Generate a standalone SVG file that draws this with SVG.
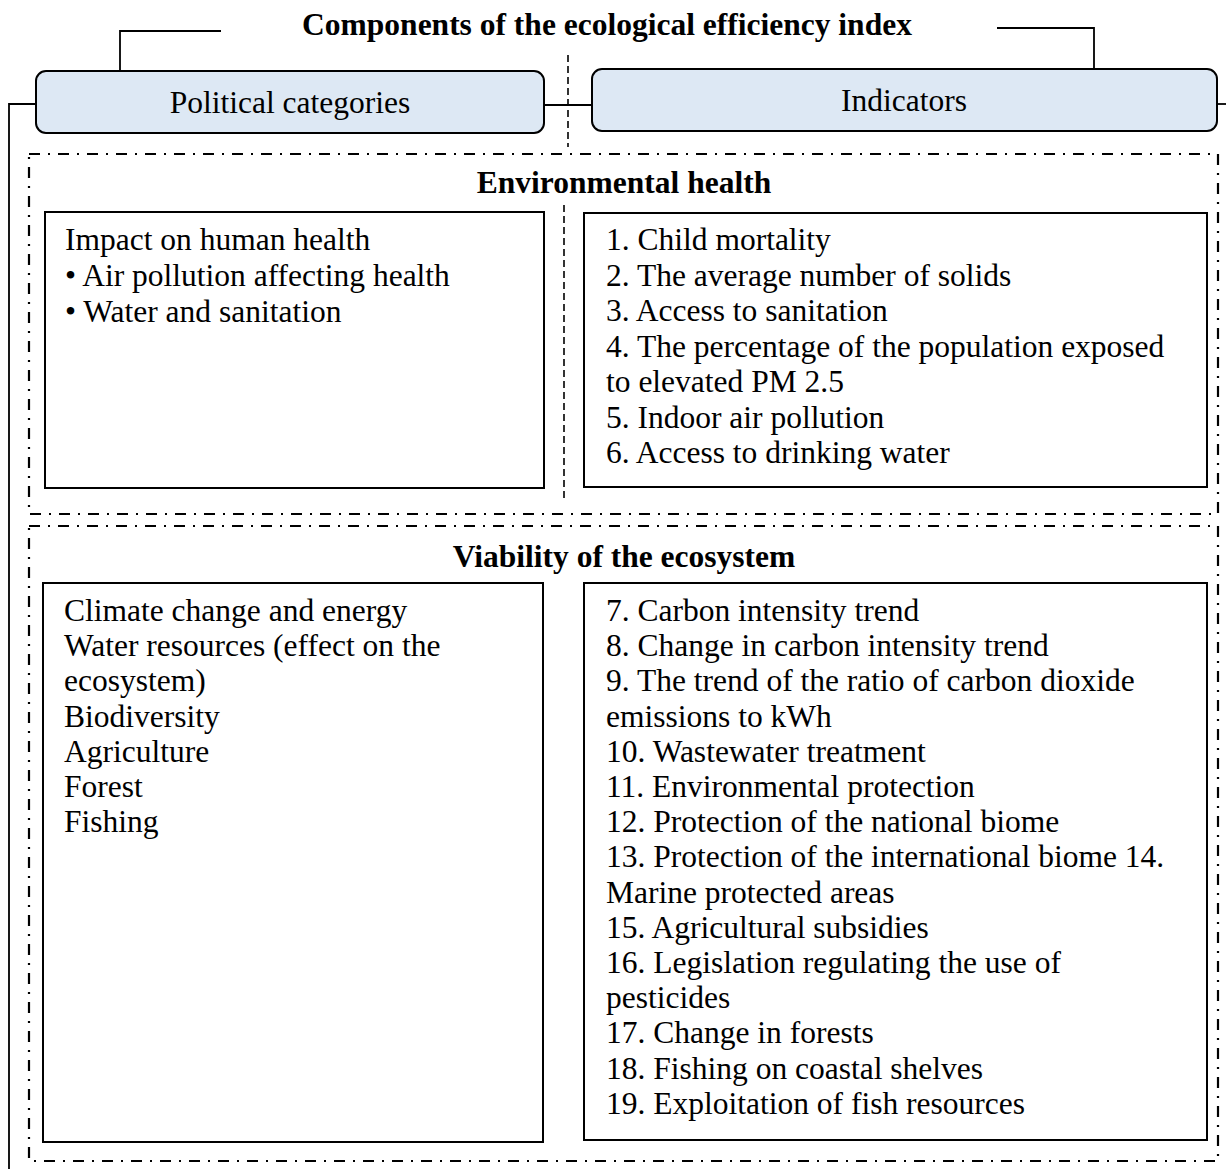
<svg xmlns="http://www.w3.org/2000/svg" width="1226" height="1169" viewBox="0 0 1226 1169">
<style>
  .t { font-family: "Liberation Serif", "Times New Roman", serif; font-size: 31.5px; fill: #000; }
  .b { font-family: "Liberation Serif", "Times New Roman", serif; font-size: 31.5px; font-weight: bold; fill: #000; }
  .hdr { fill: #dde8f4; stroke: #000; stroke-width: 2; }
  .box { fill: #fff; stroke: #000; stroke-width: 2; }
  .sec { fill: none; stroke: #000; stroke-width: 2.2; stroke-dasharray: 11 8 2 8; }
  .ln { fill: none; stroke: #000; stroke-width: 1.8; }
  .dash { fill: none; stroke: #000; stroke-width: 1.6; stroke-dasharray: 7 4; }
</style>
<rect width="1226" height="1169" fill="#fff"/>

<g id="title">
  <text class="b" x="607" y="35" text-anchor="middle">Components of the ecological efficiency index</text>
</g>

<g id="connectors">
  <path class="ln" d="M221,31 H120 V71"/>
  <path class="ln" d="M997,28 H1094 V69"/>
  <path class="ln" d="M544,105 H592"/>
  <path class="ln" d="M36,104 H9 V1169"/>
  <path class="ln" d="M1217,104 H1226"/>
  <path class="dash" d="M568,55 V147"/>
  <path class="dash" d="M564,205 V498"/>
</g>

<g id="political-categories">
  <rect class="hdr" x="36" y="71" width="508" height="62" rx="10"/>
  <text class="t" x="290" y="113" text-anchor="middle">Political categories</text>
</g>

<g id="indicators">
  <rect class="hdr" x="592" y="69" width="625" height="62" rx="10"/>
  <text class="t" x="904" y="111" text-anchor="middle">Indicators</text>
</g>

<g id="environmental-health">
  <rect class="sec" x="29" y="154" width="1189" height="360"/>
  <text class="b" x="624" y="193" text-anchor="middle">Environmental health</text>
</g>

<g id="env-categories">
  <rect class="box" x="45" y="212" width="499" height="276"/>
  <text class="t" x="65" y="250">Impact on human health</text>
  <text class="t" x="65" y="286">• Air pollution affecting health</text>
  <text class="t" x="65" y="322">• Water and sanitation</text>
</g>

<g id="env-indicators">
  <rect class="box" x="584" y="213" width="623" height="274"/>
  <text class="t" x="606" y="250">1. Child mortality</text>
  <text class="t" x="606" y="285.5">2. The average number of solids</text>
  <text class="t" x="606" y="321">3. Access to sanitation</text>
  <text class="t" x="606" y="356.5">4. The percentage of the population exposed</text>
  <text class="t" x="606" y="392">to elevated PM 2.5</text>
  <text class="t" x="606" y="427.5">5. Indoor air pollution</text>
  <text class="t" x="606" y="463">6. Access to drinking water</text>
</g>

<g id="viability">
  <rect class="sec" x="29" y="526" width="1189" height="635"/>
  <text class="b" x="624" y="567" text-anchor="middle">Viability of the ecosystem</text>
</g>

<g id="viability-categories">
  <rect class="box" x="43" y="583" width="500" height="559"/>
  <text class="t" x="64" y="621">Climate change and energy</text>
  <text class="t" x="64" y="656.2">Water resources (effect on the</text>
  <text class="t" x="64" y="691.4">ecosystem)</text>
  <text class="t" x="64" y="726.6">Biodiversity</text>
  <text class="t" x="64" y="761.8">Agriculture</text>
  <text class="t" x="64" y="797">Forest</text>
  <text class="t" x="64" y="832.2">Fishing</text>
</g>

<g id="viability-indicators">
  <rect class="box" x="584" y="583" width="623" height="557"/>
  <text class="t" x="606" y="621">7. Carbon intensity trend</text>
  <text class="t" x="606" y="656.2">8. Change in carbon intensity trend</text>
  <text class="t" x="606" y="691.4">9. The trend of the ratio of carbon dioxide</text>
  <text class="t" x="606" y="726.6">emissions to kWh</text>
  <text class="t" x="606" y="761.8">10. Wastewater treatment</text>
  <text class="t" x="606" y="797">11. Environmental protection</text>
  <text class="t" x="606" y="832.2">12. Protection of the national biome</text>
  <text class="t" x="606" y="867.4">13. Protection of the international biome 14.</text>
  <text class="t" x="606" y="902.6">Marine protected areas</text>
  <text class="t" x="606" y="937.8">15. Agricultural subsidies</text>
  <text class="t" x="606" y="973">16. Legislation regulating the use of</text>
  <text class="t" x="606" y="1008.2">pesticides</text>
  <text class="t" x="606" y="1043.4">17. Change in forests</text>
  <text class="t" x="606" y="1078.6">18. Fishing on coastal shelves</text>
  <text class="t" x="606" y="1113.8">19. Exploitation of fish resources</text>
</g>
</svg>
